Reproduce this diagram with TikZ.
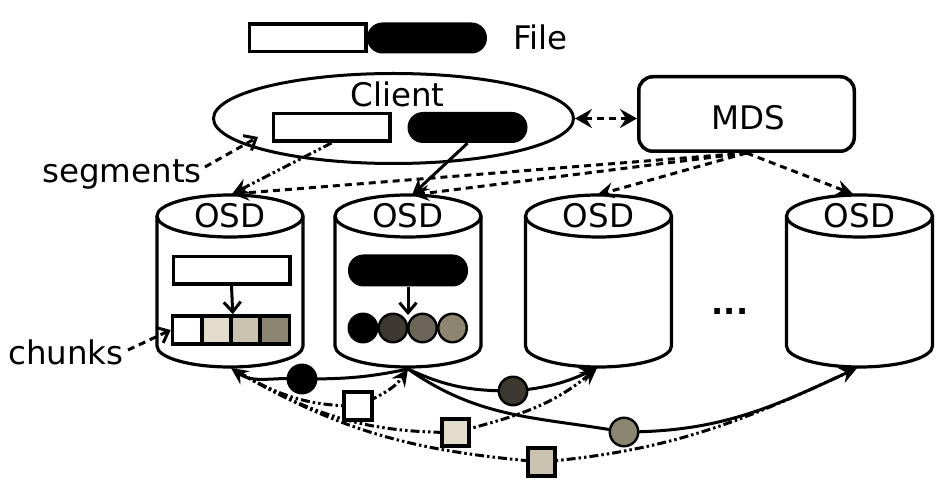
\documentclass[tikz,border=0pt]{standalone}
\usepackage{fontspec}
\setmainfont{DejaVu Sans}
\usetikzlibrary{arrows.meta,shapes.geometric}
\definecolor{colL}{HTML}{E2DCCD}
\definecolor{colM}{HTML}{C9C2AE}
\definecolor{colD}{HTML}{8C8571}
\definecolor{colKa}{HTML}{3D3930}
\definecolor{colKb}{HTML}{6B6557}
\newcommand{\osdcyl}[2]{%
  \fill[white] ({#1-73},271) -- ({#1-73},141) arc[start angle=180,end angle=360,x radius=73pt,y radius=21pt] -- ({#1+73},271) -- cycle;
  \draw[line width=3.2pt] ({#1-73},271) -- ({#1-73},141) arc[start angle=180,end angle=360,x radius=73pt,y radius=21pt] -- ({#1+73},271);
  \draw[line width=3.2pt, fill=white] (#1,271) ellipse[x radius=73pt, y radius=21pt];
  \node[txt] (#2) at (#1,259) {OSD};
}
\begin{document}
\begin{tikzpicture}[x=1pt,y=1pt,
  txt/.style={font=\fontsize{32.5}{38}\selectfont, inner sep=0pt, anchor=base},
  wseg/.style={draw, line width=3.5pt, fill=white, minimum width=116.5pt, minimum height=27.5pt, inner sep=0pt},
  bseg/.style={fill=black, rounded corners=15.5pt, minimum width=120pt, minimum height=31pt, inner sep=0pt},
  chunk/.style={draw, line width=3.5pt, minimum width=29.25pt, minimum height=28pt, inner sep=0pt},
  ball/.style={circle, draw, line width=2.4pt, minimum size=28.5pt, inner sep=0pt},
  sqm/.style={draw, line width=4pt, minimum size=27.5pt, inner sep=0pt},
  dsh/.style={line width=3pt, dash pattern=on 7pt off 5pt},
  ddot/.style={line width=3pt, dash pattern=on 9pt off 3pt on 2.5pt off 3pt on 2.5pt off 3pt},
  sol/.style={line width=3pt},
  stl/.style={-{Stealth[length=17pt,width=16pt,inset=6pt]}},
  barb/.style={-{Straight Barb[length=10pt,width=17pt]}},
]
\useasboundingbox (0,0) rectangle (939,487);
% File
\node[wseg] (fw) at (307.5,449) {};
\node[bseg] (fb) at (427,449) {};
\node[txt, anchor=base west] (file) at (513,437) {File};
% Client
\node[ellipse, draw, line width=3pt, minimum width=360pt, minimum height=90pt, inner sep=0pt] (client) at (393.5,368.5) {};
\node[txt] (clientlbl) at (397.5,380) {Client};
\node[wseg] (cs1) at (331.5,359.5) {};
\node[bseg] (cs2) at (467.5,359.5) {};
% MDS
\node[draw, line width=3.5pt, rounded corners=14pt, minimum width=215.5pt, minimum height=74.5pt, inner sep=0pt] (mds) at (746.5,373) {};
\node[txt] (mdslbl) at (748,357) {MDS};
% OSDs
\osdcyl{230}{osdA}
\osdcyl{408}{osdB}
\osdcyl{598.5}{osdC}
\osdcyl{859.5}{osdD}
\node[txt, font=\fontsize{32}{38}\selectfont\bfseries] (dots) at (730,172) {...};
% OSD1 contents
\node[wseg] (os1) at (231.5,216.5) {};
\node[chunk, fill=white] (k1) at (187.1,157) {};
\node[chunk, fill=colL] (k2) at (216.4,157) {};
\node[chunk, fill=colM] (k3) at (245.6,157) {};
\node[chunk, fill=colD] (k4) at (274.9,157) {};
% OSD2 contents
\node[bseg, minimum height=32pt] (os2) at (408,216.5) {};
\node[ball, fill=black] (b1) at (363,159) {};
\node[ball, fill=colKa] (b2) at (393,159) {};
\node[ball, fill=colKb] (b3) at (422.5,159) {};
\node[ball, fill=colD] (b4) at (452.5,159) {};
\coordinate (a2) at (408,172);
\draw[sol, barb] (os1.south) -- (k2.north east);
\draw[sol, barb] (os2.south) -- (a2);
% labels
\node[txt, anchor=base west] (seglbl) at (42,304) {segments};
\node[txt, anchor=base west] (chklbl) at (8,122) {chunks};
\coordinate (segA) at (205,320);
\coordinate (segB) at (258,350);
\coordinate (chkA) at (128,137);
\draw[dsh, barb] (segA) -- (segB);
\draw[dsh, barb] (chkA) -- (k1.west);
% top points of OSDs
\coordinate (T1) at (232,293);
\coordinate (T2) at (412,292);
\coordinate (T3) at (597,292);
\coordinate (T4) at (853,293);
% client / MDS connectors
\draw[dsh, {Stealth[length=17pt,width=19pt,inset=6pt]}-{Stealth[length=17pt,width=19pt,inset=6pt]}] (client.east) -- (client.east -| mds.west);
\draw[dsh, stl] (mds.south) -- (T1);
\draw[dsh, stl] (mds.south) -- (T2);
\draw[dsh, stl] (mds.south) -- (T3);
\draw[dsh, stl] (mds.south) -- (T4);
\draw[ddot, stl] (cs1.south) -- (T1);
\draw[sol, stl] (cs2.south) -- (T2);
% bottom points
\coordinate (B1) at (231,119);
\coordinate (B1s) at (238,115);
\coordinate (B2) at (408,118);
\coordinate (B3) at (597,119);
\coordinate (B4) at (857,119);
% marker positions
\coordinate (m1) at (302,108);
\coordinate (m2) at (358,81);
\coordinate (m3) at (455.5,54.5);
\coordinate (m4) at (541.5,25);
\coordinate (m5) at (513,96);
\coordinate (m6) at (624,55);
% transfers
\draw[sol, stl] (B2) to[out=192,in=0] (m1) to[out=175,in=-35] (B1);
\draw[ddot, stl] (B1s) to[out=-30,in=180] (m2) to[out=25,in=235] (B2);
\draw[sol, stl] (B2) to[out=-25,in=180] (m5) to[out=5,in=205] (B3);
\draw[ddot, stl] (B1s) to[out=-30,in=180] (m3) to[out=15,in=220] (B3);
\draw[sol, stl] (B2) to[out=-35,in=170] (m6) to[out=0,in=205] (B4);
\draw[ddot, stl] (B1s) to[out=-30,in=175] (m4) to[out=5,in=205] (B4);
% markers
\node[ball, fill=black] (c1) at (m1) {};
\node[sqm, fill=white] (q1) at (m2) {};
\node[sqm, fill=colL] (q2) at (m3) {};
\node[sqm, fill=colM] (q3) at (m4) {};
\node[ball, fill=colKa] (c2) at (m5) {};
\node[ball, fill=colD] (c3) at (m6) {};
\end{tikzpicture}
\end{document}
